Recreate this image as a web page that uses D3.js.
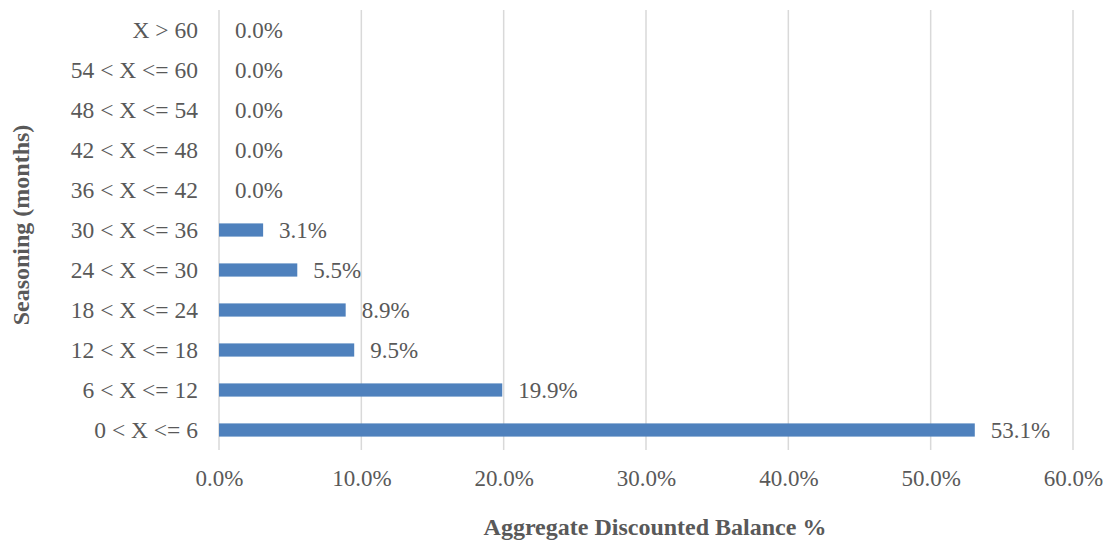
<!DOCTYPE html>
<html>
<head>
<meta charset="utf-8">
<script src="https://cdn.jsdelivr.net/npm/d3@7"></script>
<style>
  body { margin: 0; background: #fff; }
  text { font-family: "Liberation Serif", "Times New Roman", serif; }
</style>
</head>
<body>
<div id="chart"></div>
<script>
var categories = ["X > 60", "54 < X <= 60", "48 < X <= 54", "42 < X <= 48", "36 < X <= 42",
    "30 < X <= 36", "24 < X <= 30", "18 < X <= 24", "12 < X <= 18", "6 < X <= 12", "0 < X <= 6"];
var values = [0.0, 0.0, 0.0, 0.0, 0.0, 3.1, 5.5, 8.9, 9.5, 19.9, 53.1];
var xTicks = [0, 10, 20, 30, 40, 50, 60];

var width = 1107, height = 543;
var margin = {top: 10, right: 34, bottom: 93, left: 219};

var svg = d3.select("#chart").append("svg")
    .attr("width", width)
    .attr("height", height);

var x = d3.scaleLinear()
    .domain([0, 60])
    .range([margin.left, width - margin.right]);

var y = d3.scaleBand()
    .domain(categories)
    .range([margin.top, height - margin.bottom])
    .paddingInner(0.67)
    .paddingOuter(0.335);

// gridlines
svg.append("g")
    .selectAll("line")
    .data(xTicks)
    .enter().append("line")
    .attr("x1", function(d) { return x(d); })
    .attr("x2", function(d) { return x(d); })
    .attr("y1", margin.top)
    .attr("y2", height - margin.bottom)
    .attr("stroke", "#d9d9d9")
    .attr("stroke-width", 1.5);

// bars
svg.append("g")
    .selectAll("rect")
    .data(values)
    .enter().append("rect")
    .attr("x", x(0))
    .attr("y", function(d, i) { return y(categories[i]); })
    .attr("width", function(d) { return x(d) - x(0); })
    .attr("height", y.bandwidth())
    .attr("fill", "#4f81bd");

// value labels
svg.append("g")
    .selectAll("text")
    .data(values)
    .enter().append("text")
    .attr("x", function(d) { return x(d) + 16; })
    .attr("y", function(d, i) { return y(categories[i]) + y.bandwidth() / 2; })
    .attr("dy", "0.35em")
    .attr("fill", "#595959")
    .style("font-size", "23px")
    .text(function(d) { return d.toFixed(1) + "%"; });

// y axis
var yAxis = svg.append("g")
    .attr("transform", "translate(" + margin.left + ",0)")
    .call(d3.axisLeft(y).tickSize(0).tickPadding(21));
yAxis.select(".domain").remove();
yAxis.selectAll("text")
    .attr("fill", "#595959")
    .style("font-size", "23.5px")
    .style("font-family", "Liberation Serif, Times New Roman, serif");

// x axis
var xAxis = svg.append("g")
    .attr("transform", "translate(0," + (height - margin.bottom) + ")")
    .call(d3.axisBottom(x).tickValues(xTicks).tickSize(0).tickPadding(20)
        .tickFormat(function(d) { return d.toFixed(1) + "%"; }));
xAxis.select(".domain").remove();
xAxis.selectAll("text")
    .attr("fill", "#595959")
    .style("font-size", "23px")
    .style("font-family", "Liberation Serif, Times New Roman, serif");

// axis titles
svg.append("text")
    .attr("x", 655)
    .attr("y", 535)
    .attr("text-anchor", "middle")
    .attr("fill", "#595959")
    .style("font-size", "24px")
    .style("font-weight", "bold")
    .text("Aggregate Discounted Balance %");

svg.append("text")
    .attr("transform", "translate(29,225) rotate(-90)")
    .attr("text-anchor", "middle")
    .attr("fill", "#595959")
    .style("font-size", "24px")
    .style("font-weight", "bold")
    .text("Seasoning (months)");
</script>
</body>
</html>
